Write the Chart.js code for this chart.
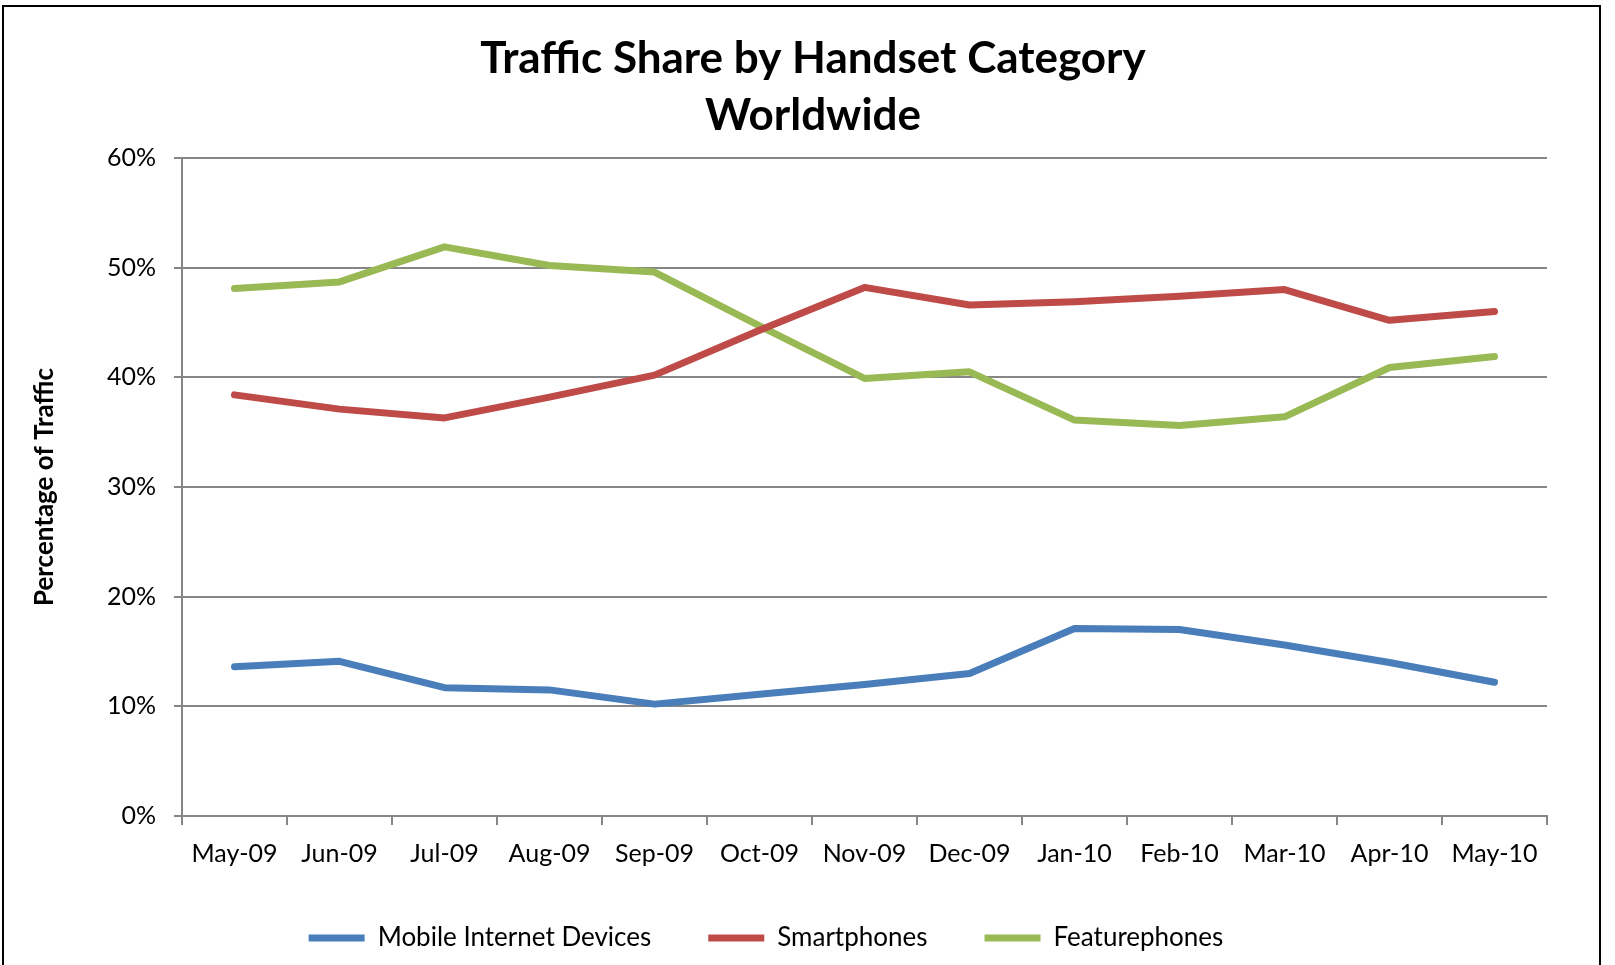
<!DOCTYPE html>
<html>
<head>
<meta charset="utf-8">
<script src="https://cdn.jsdelivr.net/npm/chart.js@4"></script>
<style>
  html, body { margin: 0; padding: 0; background: #fff; overflow: hidden; }
  #wrap { position: relative; width: 1615px; height: 965px; }
  #frame { position: absolute; left: 2px; top: 5px; width: 1599px; height: 1000px; border: 2px solid #000; box-sizing: border-box; pointer-events: none; }
  canvas { position: absolute; left: 0; top: 0; }
</style>
</head>
<body>
<div id="wrap">
  <canvas id="grafico" width="1615" height="965"></canvas>
  <div id="frame"></div>
</div>
<script>
const meses = ['May-09', 'Jun-09', 'Jul-09', 'Aug-09', 'Sep-09', 'Oct-09', 'Nov-09',
  'Dec-09', 'Jan-10', 'Feb-10', 'Mar-10', 'Apr-10', 'May-10'];
const mobileInternet = [13.6, 14.1, 11.7, 11.5, 10.2, 11.1, 12.0, 13.0, 17.1, 17.0, 15.6, 14.0, 12.2];
const smartphones = [38.4, 37.1, 36.3, 38.2, 40.2, 44.3, 48.2, 46.6, 46.9, 47.4, 48.0, 45.2, 46.0];
const featurephones = [48.1, 48.7, 51.9, 50.2, 49.6, 44.7, 39.9, 40.5, 36.1, 35.6, 36.4, 40.9, 41.9];
const yTicks = [0, 10, 20, 30, 40, 50, 60];

const fuente = 'Lato, "Open Sans", sans-serif';
const gris = '#868686';

function serie(label, data, color) {
  return {
    label: label,
    data: data,
    borderColor: color,
    backgroundColor: color,
    borderWidth: 7,
    borderCapStyle: 'round',
    borderJoinStyle: 'round',
    pointRadius: 0,
    pointHoverRadius: 0,
    pointStyle: 'line',
    tension: 0,
    fill: false
  };
}

// el titulo va centrado en toda la imagen y la leyenda un poco a la izquierda
const centrarBloques = {
  id: 'centrarBloques',
  afterLayout(chart) {
    if (chart.titleBlock) {
      chart.titleBlock.left = 0;
      chart.titleBlock.right = chart.width + 11;
    }
    if (chart.legend) {
      chart.legend.left = 0;
      chart.legend.right = chart.width - 83;
      chart.legend.top -= 10;
      chart.legend.bottom -= 10;
    }
  }
};

new Chart(document.getElementById('grafico').getContext('2d'), {
  type: 'line',
  data: {
    labels: meses,
    datasets: [
      serie('Mobile Internet Devices', mobileInternet, '#4A7EBB'),
      serie('Smartphones', smartphones, '#BE4B48'),
      serie('Featurephones', featurephones, '#98B954')
    ]
  },
  plugins: [centrarBloques],
  options: {
    responsive: false,
    animation: false,
    layout: { padding: { left: 29, right: 68, top: 30, bottom: -6 } },
    plugins: {
      title: {
        display: true,
        text: ['Traffic Share by Handset Category', 'Worldwide'],
        color: '#000',
        font: { family: fuente, size: 44, weight: 'bold', lineHeight: 1.3 },
        padding: { top: 0, bottom: 13.6 }
      },
      legend: {
        position: 'bottom',
        labels: {
          color: '#000',
          font: { family: fuente, size: 26 },
          usePointStyle: true,
          pointStyleWidth: 56,
          boxHeight: 7,
          padding: 57
        }
      },
      tooltip: { enabled: false }
    },
    scales: {
      x: {
        offset: true,
        grid: { offset: true, drawOnChartArea: false, color: gris, lineWidth: 2, tickLength: 9 },
        border: { color: gris, width: 2 },
        ticks: { color: '#000', font: { family: fuente, size: 25 }, padding: 14, maxRotation: 0, autoSkip: false },
        afterFit: s => { s.height = 62; }
      },
      y: {
        min: 0,
        max: 60,
        afterBuildTicks: s => { s.ticks = yTicks.map(v => ({ value: v })); },
        grid: { color: gris, lineWidth: 2, tickLength: 8 },
        border: { color: gris, width: 2 },
        ticks: { color: '#000', font: { family: fuente, size: 25 }, padding: 18, callback: v => v + '%' },
        title: {
          display: true,
          text: 'Percentage of Traffic',
          color: '#000',
          font: { family: fuente, size: 26, weight: 'bold' },
          padding: { top: 0, bottom: 0 }
        },
        afterFit: s => { s.width = 153; }
      }
    }
  }
});
</script>
</body>
</html>
